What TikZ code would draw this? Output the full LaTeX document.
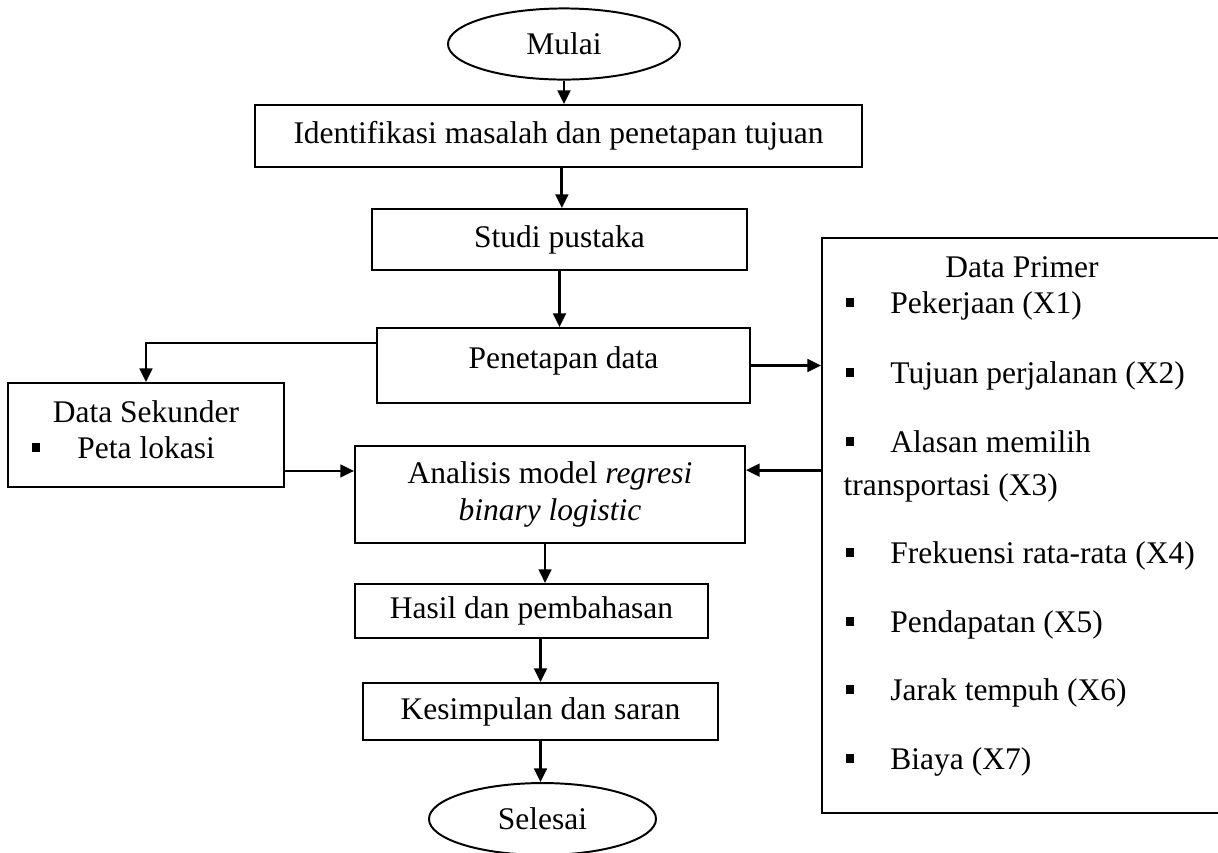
\documentclass[tikz,border=0pt]{standalone}
\usepackage{fontspec}
\setmainfont{Liberation Serif}
\usetikzlibrary{arrows.meta,shapes.geometric}
\newcommand{\sqbullet}{\rule[2.3pt]{3.3pt}{3.3pt}}
\begin{document}
\begin{tikzpicture}[x=0.381pt,y=-0.381pt,
  every node/.style={font=\fontsize{12}{14.1}\selectfont},
  box/.style={draw, line width=0.75pt, inner sep=0pt, align=center},
  oval/.style={draw, ellipse, line width=0.75pt, inner sep=0pt},
  arr/.style={line width=1.05pt, -{Triangle[width=4.8pt,length=5.2pt]}},
  lbl/.style={inner sep=0pt, anchor=base west}]
\useasboundingbox (0,0) rectangle (1218,852);
\clip (0,0) rectangle (1218,852);
% main flow
\node[oval, minimum width=88.4pt, minimum height=27.1pt] (mulai) at (564,44) {Mulai};
\node[box, minimum width=231.3pt, minimum height=23.6pt] (ident) at (558.5,136) {Identifikasi masalah dan penetapan tujuan};
\node[box, minimum width=142.9pt, minimum height=23.2pt] (studi) at (559.5,239.5) {Studi pustaka};
\node[box, minimum width=142.1pt, minimum height=28.6pt] (pen) at (563.5,365.5) {};
\node[inner sep=0pt, anchor=base] (pentext) at (563.5,368) {Penetapan data};
\node[box, minimum width=148.6pt, minimum height=37pt] (ana) at (550,494.5) {Analisis model \textit{regresi}\\\textit{binary logistic}};
\node[box, minimum width=134.5pt, minimum height=20.6pt] (hasil) at (531.5,611) {Hasil dan pembahasan};
\node[box, minimum width=135.3pt, minimum height=21.7pt] (kes) at (540.5,711.5) {Kesimpulan dan saran};
\node[oval, minimum width=86.5pt, minimum height=27.4pt] (sel) at (542.5,819) {Selesai};
% data sekunder
\node[box, minimum width=105.2pt, minimum height=39.6pt] (sek) at (146,435) {};
\node[inner sep=0pt, anchor=base] (sekhead) at (146,422) {Data Sekunder};
\node[lbl] (sek1) at (31,458) {\makebox[17.5pt][l]{\sqbullet}Peta lokasi};
% data primer
\node[box, minimum width=160pt, minimum height=219.1pt] (prim) at (1032,525.5) {};
\node[inner sep=0pt, anchor=base] (primhead) at (1022,277) {Data Primer};
\node[lbl] (x1) at (845,313) {\makebox[17.1pt][l]{\sqbullet}Pekerjaan (X1)};
\node[lbl] (x2) at (845,383) {\makebox[17.1pt][l]{\sqbullet}Tujuan perjalanan (X2)};
\node[lbl] (x3a) at (845,452) {\makebox[17.1pt][l]{\sqbullet}Alasan memilih};
\node[lbl] (x3b) at (843,495) {transportasi (X3)};
\node[lbl] (x4) at (845,563) {\makebox[17.1pt][l]{\sqbullet}Frekuensi rata-rata (X4)};
\node[lbl] (x5) at (845,632) {\makebox[17.1pt][l]{\sqbullet}Pendapatan (X5)};
\node[lbl] (x6) at (845,700) {\makebox[17.1pt][l]{\sqbullet}Jarak tempuh (X6)};
\node[lbl] (x7) at (845,769) {\makebox[17.1pt][l]{\sqbullet}Biaya (X7)};
% connectors
\draw[arr] (mulai.south) -- (mulai.south |- ident.north);
\draw[arr] ([xshift=0.9pt]studi.north |- ident.south) -- ([xshift=0.9pt]studi.north);
\draw[arr] (studi.south) -- (studi.south |- pen.north);
\draw[arr] ([yshift=8.6pt]pen.west) -| (sek.north);
\draw[arr] (pen.east) -- (pen.east -| prim.west);
\draw[arr] ([yshift=-13.7pt]sek.east) -- ([yshift=-13.7pt]sek.east -| ana.west);
\draw[arr] ([yshift=21.1pt]prim.west) -- ([yshift=21.1pt]prim.west -| ana.east);
\draw[arr] ([xshift=-1.9pt]ana.south) -- ([xshift=-1.9pt]ana.south |- hasil.north);
\draw[arr] (kes.north |- hasil.south) -- (kes.north);
\draw[arr] (kes.south) -- (kes.south |- sel.north);
\end{tikzpicture}
\end{document}
